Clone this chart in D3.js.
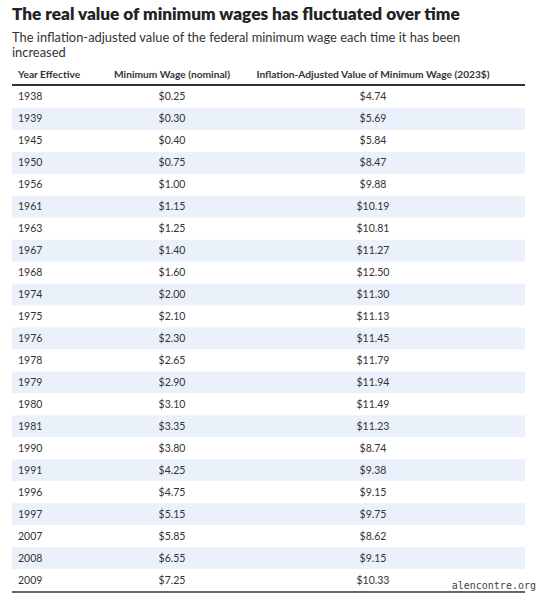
<!DOCTYPE html><html><head><meta charset="utf-8"><script src="https://cdn.jsdelivr.net/npm/d3@7"></script>
<style>body{margin:0;background:#fff}</style></head><body><svg id="c" width="540" height="600"></svg>
<script>
const years=["1938","1939","1945","1950","1956","1961","1963","1967","1968","1974","1975","1976","1978","1979","1980","1981","1990","1991","1996","1997","2007","2008","2009"];
const nominal=["$0.25","$0.30","$0.40","$0.75","$1.00","$1.15","$1.25","$1.40","$1.60","$2.00","$2.10","$2.30","$2.65","$2.90","$3.10","$3.35","$3.80","$4.25","$4.75","$5.15","$5.85","$6.55","$7.25"];
const adjusted=["$4.74","$5.69","$5.84","$8.47","$9.88","$10.19","$10.81","$11.27","$12.50","$11.30","$11.13","$11.45","$11.79","$11.94","$11.49","$11.23","$8.74","$9.38","$9.15","$9.75","$8.62","$9.15","$10.33"];
const headers=["Year Effective","Minimum Wage (nominal)","Inflation-Adjusted Value of Minimum Wage (2023$)"];
const svg=d3.select("#c"),F="Lato, 'Open Sans', sans-serif";
svg.append("text").attr("x",12).attr("y",20).attr("font-family",F).attr("font-weight",800).attr("font-size",17.2).attr("fill","#222").text("The real value of minimum wages has fluctuated over time");
svg.append("text").attr("x",12).attr("y",42).attr("font-family",F).attr("font-size",12.9).attr("fill","#333").text("The inflation-adjusted value of the federal minimum wage each time it has been");
svg.append("text").attr("x",12).attr("y",57).attr("font-family",F).attr("font-size",12.9).attr("fill","#333").text("increased");
const y=d3.scaleBand().domain(years).range([86,591]);
const L=12,R=525;
svg.selectAll("rect.b").data(years).join("rect").attr("x",L).attr("width",R-L).attr("y",d=>y(d)).attr("height",y.bandwidth()).attr("fill",(d,i)=>i%2?"#ebf1fa":"#fff");
const hx=[{x:18,a:"start"},{x:172,a:"middle"},{x:373,a:"middle"}];
headers.forEach((h,i)=>svg.append("text").attr("x",hx[i].x).attr("y",78).attr("text-anchor",hx[i].a).attr("font-family",F).attr("font-weight",700).attr("font-size",10.2).attr("fill","#333").text(h));
svg.append("line").attr("x1",L).attr("x2",R).attr("y1",85).attr("y2",85).attr("stroke","#333").attr("stroke-width",2);
svg.append("line").attr("x1",L).attr("x2",R).attr("y1",592).attr("y2",592).attr("stroke","#333").attr("stroke-width",1.5);
[years,nominal,adjusted].forEach((col,ci)=>{
 svg.append("g").selectAll("text").data(col).join("text").attr("x",hx[ci].x).attr("y",(d,i)=>y(years[i])+y.bandwidth()/2+3.5).attr("text-anchor",hx[ci].a).attr("font-family",F).attr("font-size",10.5).attr("fill","#333").text(d=>d);
});
svg.append("text").attr("x",536).attr("y",589).attr("text-anchor","end").attr("font-family","DejaVu Sans Mono").attr("font-size",10).attr("fill","#444").text("alencontre.org");
</script></body></html>
